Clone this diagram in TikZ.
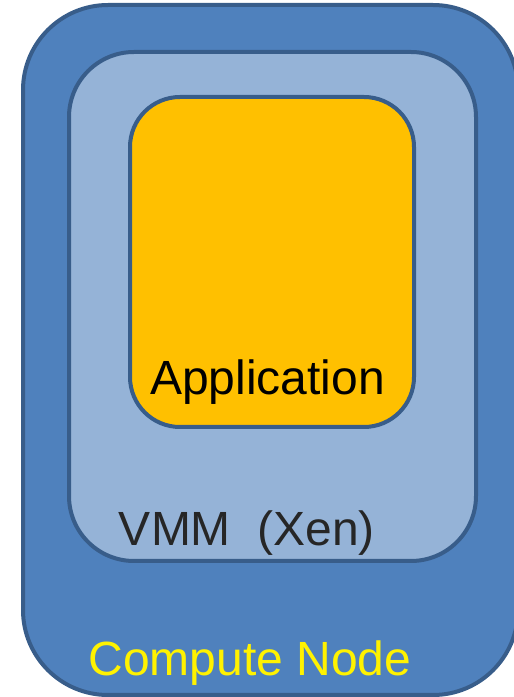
\documentclass[tikz,border=0pt]{standalone}
\usepackage{fontspec}
\setmainfont{Liberation Sans}
\usetikzlibrary{positioning}

\definecolor{nodefill}{HTML}{4F81BD}
\definecolor{vmmfill}{HTML}{95B3D7}
\definecolor{appfill}{HTML}{FFC000}
\definecolor{edgeblue}{HTML}{385D8A}

\begin{document}
\begin{tikzpicture}[x=1pt, y=1pt, inner sep=0pt,
        box/.style={draw=edgeblue, line width=4pt, rectangle},
        lbl/.style={anchor=base, font=\fontsize{48}{50}\selectfont}]
                \useasboundingbox (0,0) rectangle (514,697);
                \node[box, fill=nodefill, rounded corners=85pt, minimum width=495pt, minimum height=690pt] (compute) at (270.5,347) {};
                \node[box, fill=vmmfill, rounded corners=65pt, minimum width=407pt, minimum height=509pt] (vmm) at (272.5,390.5) {};
                \node[box, fill=appfill, rounded corners=50pt, minimum width=284pt, minimum height=330pt] (app) at (272,435) {};
                \node[lbl] (apptext) at (267.5,302) {Application};
                \node[lbl, text=black!85] (vmmtext) at (247,151) {VMM\ \ (Xen)};
                \node[lbl, text=yellow] (computetext) at (250,21) {Compute Node};
        \end{tikzpicture}
\end{document}
